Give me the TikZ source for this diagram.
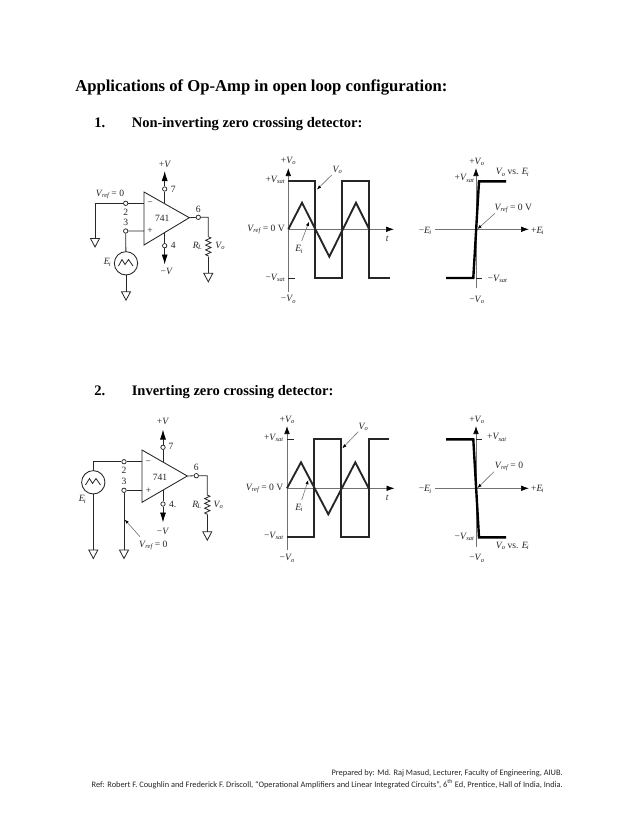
\documentclass[tikz,border=0pt]{standalone}
\usepackage{fontspec}
\setmainfont{Liberation Serif}
\newfontfamily\footfont{Carlito}
\usetikzlibrary{arrows.meta,decorations.pathmorphing}
\definecolor{ink}{gray}{0.15}
\tikzset{
  x=0.75pt,y=-0.75pt,
  wire/.style={draw=ink,line width=0.6pt},
  axis/.style={draw=ink!65,line width=0.55pt,-{Latex[length=6pt,width=4.2pt,color=black]}},
  trace/.style={draw=ink,line width=1.4pt,line join=miter},
  steep/.style={draw=black,line width=1.8pt,line join=miter},
  pointer/.style={draw=ink!65,line width=0.45pt,-{Latex[length=3.2pt,width=2.4pt,color=black]}},
  supply/.style={draw=ink,line width=0.6pt,-{Latex[length=7.5pt,width=4.5pt,color=black]}},
  lab/.style={font=\fontsize{7.2}{8}\selectfont,text=ink,inner sep=0pt},
  term/.style={circle,draw=ink,fill=white,line width=0.55pt,inner sep=0pt,minimum size=3.3pt},
  opampbody/.style={draw=ink,line width=0.65pt,fill=white},
  source/.style={circle,draw=ink,line width=0.65pt,inner sep=0pt,minimum size=17.5pt},
  heading/.style={font=\bfseries\fontsize{10.9}{12}\selectfont,inner sep=0pt,anchor=base west},
  titlehead/.style={heading,font=\bfseries\fontsize{12.5}{14}\selectfont},
  foot/.style={font=\footfont\fontsize{6.27}{7}\selectfont,inner sep=0pt,text=ink},
  zig/.style={decorate,decoration={zigzag,segment length=3.6pt,amplitude=2pt}},
  gnd/.pic={\draw[wire] (-4.5,0) -- (4.5,0) -- (0,8.5) -- cycle;}
}
% italic symbol with italic lowered index
\newcommand{\Sy}[2]{\textit{#1}\kern-0.5pt\raisebox{-0.35ex}{\fontsize{4.9}{5}\selectfont\itshape #2}}
\newcommand{\Vref}{\Sy{V}{ref}}
\newcommand{\Vsat}{\Sy{V}{sat}}
\newcommand{\Vo}{\Sy{V}{o}}
\newcommand{\Ei}{\Sy{E}{i}}
\begin{document}
\begin{tikzpicture}
\useasboundingbox (0,0) rectangle (638,826);
\fill[white] (0,0) rectangle (638,826);
% headings
\node[titlehead] (title) at (75,91) {Applications of Op-Amp in open loop configuration:};
\node[heading] (n1) at (94,127) {1.};
\node[heading] (h1) at (131.5,127) {Non-inverting zero crossing detector:};
\node[heading] (n2) at (94,395) {2.};
\node[heading] (h2) at (131.5,395) {Inverting zero crossing detector:};
% ---------- circuit 1
\coordinate (a1) at (144,192); \coordinate (a2) at (144,245); \coordinate (a3) at (189.3,217.7);
\draw[opampbody] (a1) -- (a3) -- (a2) -- cycle;
\node[term] (t2) at (125.7,203.3) {};
\node[term] (t3) at (125.7,231) {};
\node[term] (t7) at (164.7,189) {};
\node[term] (t4) at (164.7,245.7) {};
\node[term] (t6) at (198.3,217.3) {};
\node[source] (es) at (126,263.3) {};
\draw[wire] (118.5,266) -- (122,259.5) -- (125,264.5) -- (128.5,259.5) -- (133,266);
\coordinate (in2) at (144,203.3); \coordinate (in3) at (144,231);
\coordinate (g1) at (95,238.5); \coordinate (g2) at (126,291.7); \coordinate (g3) at (208.3,273.3);
\coordinate (vp) at (164.7,171); \coordinate (vm) at (164.7,264.5);
\coordinate (out) at (208.3,217.3); \coordinate (r1) at (208.3,236.7); \coordinate (r2) at (208.3,256.7);
\draw[wire] (in2) -- (t2) -- (g1 |- t2) -- (g1);
\draw[wire] (in3) -- (t3) -- (es);
\draw[wire] (es) -- (g2);
\draw[wire] (a3) -- (t6) -- (out) -- (r1);
\draw[wire,zig] (r1) -- (r2);
\draw[wire] (r2) -- (g3);
\draw[wire] (164.7,203.3) -- (t7);
\draw[wire] (164.7,233) -- (t4);
\draw[supply] (t7) -- (vp);
\draw[supply] (t4) -- (vm);
\pic at (g1) {gnd}; \pic at (g2) {gnd}; \pic at (g3) {gnd};
\node[lab] at (110,194.3) {\Vref\ = 0};
\node[lab] at (125.7,212.3) {2};
\node[lab] at (125.7,222.3) {3};
\node[lab] at (173.3,189) {7};
\node[lab] at (173.3,245.7) {4};
\node[lab] at (198.3,209.3) {6};
\node[lab] at (150,204) {−};
\node[lab] at (150,231) {+};
\node[lab] at (162.3,218.3) {741};
\node[lab] at (197.3,246) {\Sy{R}{L}};
\node[lab] at (220,246) {\Vo};
\node[lab] at (107.3,262.3) {\Ei};
\node[lab] at (165,164) {+\textit{V}};
\node[lab] at (166.7,271.7) {−\textit{V}};
% ---------- waveform 1
\coordinate (w1top) at (288.3,168); \coordinate (w1bot) at (288.3,292);
\coordinate (w1l) at (288.3,229.3); \coordinate (w1r) at (394,229.3);
\draw[axis] (w1bot) -- (w1top);
\draw[axis] (w1l) -- (w1r);
\draw[trace] (288.3,181) -- (315.3,181) -- (315.3,278) -- (342.3,278) -- (342.3,181) -- (369.3,181) -- (369.3,278) -- (390,278);
\draw[trace] (288.3,229.3) -- (302,202.7) -- (329.3,256.7) -- (356,202.7) -- (369.3,229.3);
\draw[wire] (288.3,278) -- (294.5,278);
\node[lab] at (288.3,161) {+\Vo};
\node[lab,anchor=east] at (285,180) {+\Vsat};
\node[lab,anchor=east] at (285,229.3) {\Vref\ = 0 V};
\node[lab] at (387.3,239.3) {\textit{t}};
\node[lab] (w1ei) at (299,249.3) {\Ei};
\node[lab,anchor=east] at (285,278) {−\Vsat};
\node[lab] at (288.3,299.3) {−\Vo};
\node[lab] (w1vo) at (337.3,170) {\Vo};
\draw[pointer] (331.7,175) -- (317,189.5);
\draw[pointer] (301.7,241) -- (309,221.7);
% ---------- transfer 1
\coordinate (x1top) at (476,168); \coordinate (x1bot) at (476,288.3);
\coordinate (x1l) at (435,229.3); \coordinate (x1r) at (529,229.3);
\draw[axis] (x1bot) -- (x1top);
\draw[axis] (x1l) -- (x1r);
\draw[steep] (506,181.3) -- (479,181.3) -- (473.3,278) -- (446,278);
\draw[wire] (476,278) -- (481.5,278);
\node[lab] at (476.7,161.7) {+\Vo};
\node[lab] at (464.3,178.3) {+\Vsat};
\node[lab] at (512.3,172.3) {\Vo\ vs. \Ei};
\node[lab] at (513.3,208.3) {\Vref\ = 0 V};
\draw[pointer] (495,213.3) -- (477.5,229);
\node[lab] at (425,230.7) {−\Ei};
\node[lab] at (537.3,230.7) {+\Ei};
\node[lab] at (497.3,279) {−\Vsat};
\node[lab] at (476.7,300) {−\Vo};
% ---------- circuit 2
\coordinate (b1) at (142,450); \coordinate (b2) at (142,502.3); \coordinate (b3) at (187.3,476);
\draw[opampbody] (b1) -- (b3) -- (b2) -- cycle;
\node[term] (u2) at (124,461.7) {};
\node[term] (u3) at (124,490.3) {};
\node[term] (u7) at (163,447.3) {};
\node[term] (u4) at (163,504) {};
\node[term] (u6) at (196.3,475.7) {};
\node[source] (fs) at (93.3,482.3) {};
\draw[wire] (85.5,485) -- (89.5,478.5) -- (92.5,483.5) -- (96,478.5) -- (100.5,485);
\coordinate (jn2) at (142,461.7); \coordinate (jn3) at (142,490.3);
\coordinate (h1g) at (93.3,550); \coordinate (h2g) at (124,550); \coordinate (h3g) at (207.3,531.7);
\coordinate (wp) at (163,429.5); \coordinate (wm) at (163,522.5);
\coordinate (out2) at (207.3,475.7); \coordinate (s1) at (207.3,495); \coordinate (s2) at (207.3,515);
\draw[wire] (jn2) -- (u2) -- (fs |- u2) -- (fs);
\draw[wire] (fs) -- (h1g);
\draw[wire] (jn3) -- (u3) -- (h2g);
\draw[wire] (b3) -- (u6) -- (out2) -- (s1);
\draw[wire,zig] (s1) -- (s2);
\draw[wire] (s2) -- (h3g);
\draw[wire] (163,461.7) -- (u7);
\draw[wire] (163,490) -- (u4);
\draw[supply] (u7) -- (wp);
\draw[supply] (u4) -- (wm);
\pic at (h1g) {gnd}; \pic at (h2g) {gnd}; \pic at (h3g) {gnd};
\node[lab] at (124,470.7) {2};
\node[lab] at (124,481.7) {3};
\node[lab] at (171,446.7) {7};
\node[lab] at (172.7,504) {4.};
\node[lab] at (196.3,467.7) {6};
\node[lab] at (148.3,462.3) {−};
\node[lab] at (148.3,490.3) {+};
\node[lab] at (160,477.3) {741};
\node[lab] at (196.7,505) {\Sy{R}{L}};
\node[lab] at (218.3,505) {\Vo};
\node[lab] at (82.3,499.3) {\Ei};
\node[lab] at (163,421.7) {+\textit{V}};
\node[lab] at (163,531) {−\textit{V}};
\node[lab] at (153.3,545.7) {\Vref\ = 0};
\draw[pointer] (140,536.7) -- (124.7,519.5);
% ---------- waveform 2
\coordinate (w2top) at (287,426); \coordinate (w2bot) at (287,550);
\coordinate (w2l) at (287,488.3); \coordinate (w2r) at (394.5,488.3);
\draw[axis] (w2bot) -- (w2top);
\draw[axis] (w2l) -- (w2r);
\draw[trace] (287,537.3) -- (314,537.3) -- (314,439.3) -- (341.3,439.3) -- (341.3,537.3) -- (368.7,537.3) -- (368.7,439.3) -- (389.3,439.3);
\draw[trace] (287,488.3) -- (301,462.3) -- (328.3,514.3) -- (355.3,462.3) -- (368.7,488.3);
\draw[wire] (287,439.3) -- (294,439.3);
\node[lab] at (287,420) {+\Vo};
\node[lab,anchor=east] at (283.5,438) {+\Vsat};
\node[lab,anchor=east] at (283.5,488.3) {\Vref\ = 0 V};
\node[lab] at (387.3,498.3) {\textit{t}};
\node[lab] at (299,507.7) {\Ei};
\node[lab,anchor=east] at (283.5,536) {−\Vsat};
\node[lab] at (287,558.3) {−\Vo};
\node[lab] at (363.3,426.7) {\Vo};
\draw[pointer] (358.3,431.7) -- (342.3,448.3);
\draw[pointer] (301.7,500) -- (308.3,480);
% ---------- transfer 2
\coordinate (x2top) at (476,426); \coordinate (x2bot) at (476,547);
\coordinate (x2l) at (435,488.3); \coordinate (x2r) at (529,488.3);
\draw[axis] (x2bot) -- (x2top);
\draw[axis] (x2l) -- (x2r);
\draw[steep] (446,439.3) -- (473.3,439.3) -- (479,537.3) -- (506,537.3);
\draw[wire] (476,439.3) -- (481.5,439.3);
\node[lab] at (476.7,420) {+\Vo};
\node[lab] at (496.7,437.3) {+\Vsat};
\node[lab] at (509,466.7) {\Vref\ = 0};
\draw[pointer] (494,471.7) -- (477.5,488);
\node[lab] at (425,489.5) {−\Ei};
\node[lab] at (537.3,489) {+\Ei};
\node[lab] at (464.3,536.7) {−\Vsat};
\node[lab] at (512.3,546) {\Vo\ vs. \Ei};
\node[lab] at (476.7,558.3) {−\Vo};
% ---------- footer
\node[foot,anchor=base east] (f1) at (563,775) {Prepared by: Md. Raj Masud, Lecturer, Faculty of Engineering, AIUB.};
\node[foot,anchor=base east] (f2) at (563,787) {Ref: Robert F. Coughlin and Frederick F. Driscoll, “Operational Amplifiers and Linear Integrated Circuits”, 6\textsuperscript{th} Ed, Prentice, Hall of India, India.};
\end{tikzpicture}
\end{document}
